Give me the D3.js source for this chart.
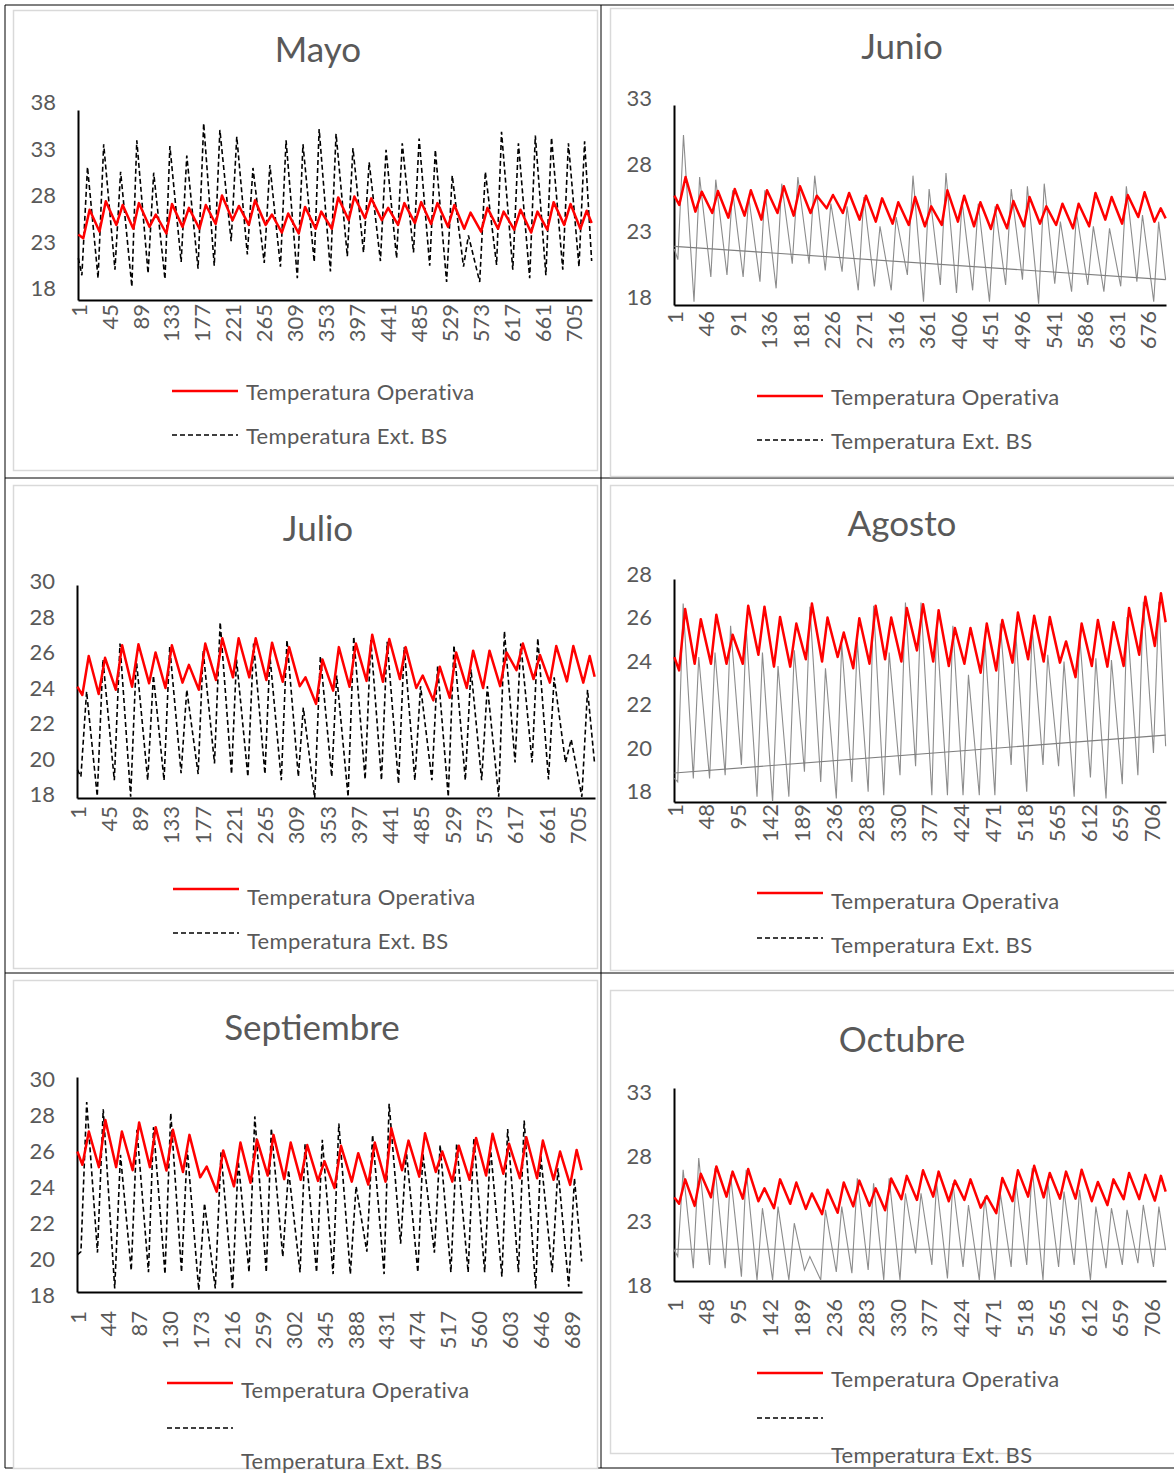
<!DOCTYPE html>
<html><head><meta charset="utf-8">
<script src="https://cdn.jsdelivr.net/npm/d3@7"></script>
<style>
body{margin:0;background:#fff}
svg{display:block}
text{font-family:Lato,"Open Sans",sans-serif;fill:#595959}
</style>
</head><body>
<svg id="c" width="1174" height="1473"></svg>
<script>
// ---------- DATA (daily minima / maxima) ----------
const mayoOpMin=[24.5,25.2,25.9,25.5,25.7,25.0,25.7,25.5,26.0,26.4,25.9,25.9,25.1,25.0,25.5,25.5,26.4,26.6,26.4,25.9,26.1,26.0,25.7,25.5,25.2,25.5,25.4,25.1,25.4,25.9,25.5];
const mayoOpMax=[27.5,28.4,28.0,28.2,27.0,28.1,27.7,28.0,29.0,27.9,28.5,27.0,27.1,27.8,27.3,28.8,28.9,28.7,27.7,28.2,28.3,28.2,28.0,27.2,27.7,27.3,27.5,27.3,28.3,28.1,27.4];
const mayoOpEnds=[24.9,26.1];
const mayoExtMin=[20.6,20.3,21.2,19.4,20.8,20.2,22.0,21.3,21.6,24.2,22.8,21.9,21.5,20.3,22.0,21.0,22.6,23.0,22.1,22.4,23.0,21.6,19.9,21.5,19.9,21.7,21.2,20.3,20.6,21.2,21.5];
const mayoExtMax=[32.0,34.4,31.5,34.8,31.4,34.2,33.2,36.6,35.9,35.2,31.9,32.2,34.8,34.4,36.0,35.5,34.0,32.5,33.8,34.5,35.0,33.8,31.1,24.8,31.5,35.7,34.5,35.3,35.1,34.5,34.7];
const mayoExtEnds=[22.4,22.1];

const junioOpMin=[25.5,25.0,24.9,24.55,24.7,24.4,24.9,24.7,24.9,25.25,24.9,24.4,24.25,24.1,24.0,23.9,24.0,24.25,23.9,23.7,23.75,23.9,24.1,24.0,23.75,23.9,24.4,24.1,24.6,24.25];
const junioOpMax=[27.6,26.5,26.55,26.7,26.6,26.6,26.9,26.9,26.2,26.25,26.4,26.2,26.0,25.7,26.1,25.4,26.6,26.2,25.7,25.5,25.8,26.1,25.4,25.6,25.6,26.4,26.1,26.25,26.45,25.25];
const junioOpEnds=[26.2,24.5];
const junioExtMin=[21.4,18.25,20.1,20.25,20.1,19.75,19.25,21.1,21.1,20.6,20.5,19.1,19.4,19.1,20.25,18.25,19.5,18.9,19.1,18.25,19.5,19.9,18.1,19.6,19.0,19.5,19.0,19.4,19.75,18.25];
const junioExtMax=[30.75,27.6,27.4,26.6,26.1,26.6,27.1,27.6,27.7,25.6,25.4,26.1,23.9,24.6,27.7,26.7,27.9,25.75,25.6,25.4,26.7,26.9,27.1,24.25,24.9,23.9,23.75,26.9,24.75,24.25];
const junioExtEnds=[22.2,19.9];
const junioTrend=[22.4,19.9];

const julioOpMin=[23.8,23.86,24.1,24.27,24.46,24.2,24.5,24.1,24.65,24.8,24.8,24.65,24.55,24.3,23.3,24.05,24.27,24.6,24.55,24.7,24.2,23.5,23.65,24.2,24.2,24.3,25.2,24.7,24.5,24.57,24.5];
const julioOpMax=[26.0,25.9,26.6,26.66,26.2,26.6,25.5,26.7,27.0,27.0,27.0,26.75,26.5,24.8,25.8,26.5,26.7,27.2,26.96,26.5,24.9,25.4,26.2,26.3,26.3,26.2,26.7,26.06,26.56,26.56,26.0];
const julioOpEnds=[24.27,24.83];
const julioExtMin=[19.2,18.1,19.0,18.07,19.0,19.0,19.4,19.35,19.95,19.35,19.2,19.35,19.0,19.2,18.0,19.2,18.07,19.05,19.0,18.8,19.0,19.0,18.07,19.0,19.0,18.07,20.0,20.0,19.05,20.0,18.07];
const julioExtMax=[24.0,25.8,26.7,25.8,24.9,26.5,24.1,26.3,27.9,25.8,26.7,26.0,26.9,23.1,26.0,24.9,27.1,26.9,26.8,26.5,24.3,25.4,26.6,25.25,24.3,27.4,26.7,27.0,24.8,21.3,24.1];
const julioExtEnds=[19.6,19.9];

const agostoOpMin=[23.9,24.2,24.2,24.2,24.2,24.6,24.07,24.07,24.4,24.3,24.5,24.0,24.2,24.4,24.3,24.8,24.3,24.1,24.2,23.8,23.9,24.25,24.4,24.3,24.25,23.6,24.1,24.07,24.1,24.6,25.0];
const agostoOpMax=[26.65,26.2,26.4,25.5,26.8,26.76,26.3,26.0,26.9,26.27,25.6,26.24,26.8,26.27,26.7,26.87,26.6,25.8,25.8,26.0,26.16,26.5,26.35,26.3,25.2,26.0,26.16,26.06,26.7,27.2,27.36];
const agostoOpEnds=[24.5,26.06];
const agostoExtMin=[18.9,19.06,19.06,19.2,19.66,18.24,18.0,18.24,19.36,18.9,18.16,18.9,18.46,18.3,19.2,19.6,18.3,18.3,18.3,18.3,18.3,19.66,18.46,19.66,19.6,18.24,19.1,18.16,18.8,19.2,20.2];
const agostoExtMax=[26.9,24.5,24.7,25.9,25.8,24.7,24.1,24.8,26.76,24.0,25.1,25.2,26.8,24.7,26.95,26.95,25.9,25.9,23.7,25.34,26.0,25.5,25.8,24.6,24.3,25.5,24.44,24.37,26.3,26.98,26.98];
const agostoExtEnds=[19.06,20.5];
const agostoTrend=[19.3,21.0];

const septOpMin=[25.1,24.97,24.97,24.8,24.97,24.78,24.7,24.4,23.6,23.9,24.1,24.5,24.3,24.26,24.2,23.8,24.16,24.0,24.16,24.8,24.44,24.7,24.16,24.26,24.5,24.6,24.35,24.35,24.26,23.98];
const septOpMax=[26.96,27.6,26.96,27.46,27.2,27.05,26.77,25.0,25.9,26.34,26.5,26.77,26.34,26.2,25.3,26.16,25.75,26.34,27.14,26.45,26.86,25.84,26.16,26.6,26.83,26.27,26.64,26.45,25.84,25.93];
const septOpEnds=[25.84,24.8];
const septExtMin=[20.25,20.2,18.2,19.2,19.1,19.0,19.1,18.1,18.2,18.15,19.1,19.1,19.97,19.1,19.1,19.0,19.0,20.25,19.0,20.7,19.1,20.2,19.1,19.1,19.1,18.86,19.1,18.2,19.1,18.3];
const septExtMax=[28.6,28.2,25.65,27.05,27.2,27.98,25.97,22.95,25.8,25.3,27.8,27.14,24.8,26.27,26.5,27.4,23.9,26.77,28.5,25.84,25.75,26.2,26.3,26.6,26.1,27.1,27.57,25.65,24.9,24.35];
const septExtEnds=[20.07,19.7];

const octOpMin=[24.0,23.84,24.5,24.56,24.4,24.2,23.66,24.0,23.6,23.2,23.3,23.8,23.84,23.5,24.36,24.3,24.56,24.2,24.3,23.7,23.27,24.2,24.56,24.5,24.4,24.4,24.2,23.9,24.36,24.36,24.25];
const octOpMax=[25.9,26.33,26.9,26.5,26.7,25.2,25.9,25.65,24.8,25.1,25.65,25.8,25.2,25.96,26.17,26.6,26.5,25.8,25.9,24.6,26.0,26.6,26.95,26.4,26.5,26.65,25.7,25.9,26.4,26.25,26.17];
const octOpEnds=[24.5,24.95];
const octExtMin=[19.9,18.99,19.25,18.99,18.34,18.08,18.08,18.08,18.86,18.08,18.7,18.6,18.86,18.08,18.08,20.15,19.25,18.2,19.1,18.08,18.08,19.1,19.25,18.08,19.1,19.25,18.08,18.99,19.25,19.38,19.1];
const octExtMax=[26.64,27.55,26.77,26.25,26.64,23.66,23.78,22.49,19.9,23.53,23.78,25.99,25.6,25.99,24.82,24.82,25.6,25.6,23.91,24.56,24.82,25.6,26.77,25.73,24.95,25.08,23.78,23.66,23.53,23.91,23.78];
const octExtEnds=[20.4,20.4];
const octTrend=[20.47,20.47];

// hour of the day at which the daily extremes occur
const opHours=[7,16];
const extHours=[5,13];

// number of records per month (x categories)
const mayoN=730, junioN=701, julioN=729, agostoN=726, septN=703, octN=726;

// axis tick labels
const mayoYTicks=[18,23,28,33,38];
const junioYTicks=[18,23,28,33];
const julioYTicks=[18,20,22,24,26,28,30];
const agostoYTicks=[18,20,22,24,26,28];
const septYTicks=[18,20,22,24,26,28,30];
const octYTicks=[18,23,28,33];
const mayoXLabels=[1,45,89,133,177,221,265,309,353,397,441,485,529,573,617,661,705];
const junioXLabels=[1,46,91,136,181,226,271,316,361,406,451,496,541,586,631,676];
const julioXLabels=[1,45,89,133,177,221,265,309,353,397,441,485,529,573,617,661,705];
const agostoXLabels=[1,48,95,142,189,236,283,330,377,424,471,518,565,612,659,706];
const septXLabels=[1,44,87,130,173,216,259,302,345,388,431,474,517,560,603,646,689];
const octXLabels=[1,48,95,142,189,236,283,330,377,424,471,518,565,612,659,706];

const titles=["Mayo","Junio","Julio","Agosto","Septiembre","Octubre"];
const legendLabels=["Temperatura Operativa","Temperatura Ext. BS"];

// ---------- LAYOUT ----------
const panels=[
 {title:titles[0],n:mayoN,opMin:mayoOpMin,opMax:mayoOpMax,opEnds:mayoOpEnds,exMin:mayoExtMin,exMax:mayoExtMax,exEnds:mayoExtEnds,trend:null,dashed:true,
  yTicks:mayoYTicks,xLabels:mayoXLabels,x0:78,x1:592,yTop:110,yBot:300,tx:318,ty:48,lblDy:[-13,-9],xlblY:304,
  frame:[13,10,597,470],leg:{x:172,y1:391,t1:391,y2:435,t2:435}},
 {title:titles[1],n:junioN,opMin:junioOpMin,opMax:junioOpMax,opEnds:junioOpEnds,exMin:junioExtMin,exMax:junioExtMax,exEnds:junioExtEnds,trend:junioTrend,dashed:false,
  yTicks:junioYTicks,xLabels:junioXLabels,x0:674,x1:1166,yTop:105,yBot:305,tx:902,ty:45,lblDy:[-9,-8],xlblY:311,
  frame:[610,8,1180,476],leg:{x:757,y1:396,t1:396,y2:440,t2:440}},
 {title:titles[2],n:julioN,opMin:julioOpMin,opMax:julioOpMax,opEnds:julioOpEnds,exMin:julioExtMin,exMax:julioExtMax,exEnds:julioExtEnds,trend:null,dashed:true,
  yTicks:julioYTicks,xLabels:julioXLabels,x0:77,x1:595,yTop:585,yBot:798,tx:318,ty:527,lblDy:[-5,-5],xlblY:806,
  frame:[13,485,597,968],leg:{x:173,y1:889,t1:896,y2:933,t2:940}},
 {title:titles[3],n:agostoN,opMin:agostoOpMin,opMax:agostoOpMax,opEnds:agostoOpEnds,exMin:agostoExtMin,exMax:agostoExtMax,exEnds:agostoExtEnds,trend:agostoTrend,dashed:false,
  yTicks:agostoYTicks,xLabels:agostoXLabels,x0:674,x1:1166,yTop:579,yBot:802,tx:902,ty:522,lblDy:[-12,-6],xlblY:804,
  frame:[610,485,1180,970],leg:{x:757,y1:893,t1:900,y2:938,t2:944}},
 {title:titles[4],n:septN,opMin:septOpMin,opMax:septOpMax,opEnds:septOpEnds,exMin:septExtMin,exMax:septExtMax,exEnds:septExtEnds,trend:null,dashed:true,
  yTicks:septYTicks,xLabels:septXLabels,x0:77,x1:582,yTop:1077,yBot:1292,tx:312,ty:1026,lblDy:[2,1],xlblY:1311,
  frame:[13,980,597,1468],leg:{x:167,y1:1383,t1:1389,y2:1428,t2:1460}},
 {title:titles[5],n:octN,opMin:octOpMin,opMax:octOpMax,opEnds:octOpEnds,exMin:octExtMin,exMax:octExtMax,exEnds:octExtEnds,trend:octTrend,dashed:false,
  yTicks:octYTicks,xLabels:octXLabels,x0:674,x1:1166,yTop:1088,yBot:1281,tx:902,ty:1038,lblDy:[3,3],xlblY:1299,
  frame:[610,990,1180,1453],leg:{x:757,y1:1373,t1:1378,y2:1418,t2:1454}}
];

const svg=d3.select("#c");

// table grid lines
const grid=svg.append("g").attr("stroke","#000").attr("stroke-width",1);
[[5,5,5,1468],[601,5,601,1468],[5,5,1174,5],[5,478,1174,478],[5,973,1174,973],[5,1468,1174,1468]]
 .forEach(l=>grid.append("line").attr("x1",l[0]).attr("y1",l[1]).attr("x2",l[2]).attr("y2",l[3]));

// daily extremes -> ordered points (index within the month's records)
function series(mins,maxs,ends,hrs,n){
  const per=n/mins.length;
  const pts=[{h:0,v:ends[0]}];
  mins.forEach((m,d)=>{
    pts.push({h:Math.round(d*per+hrs[0]*per/24),v:m});
    pts.push({h:Math.round(d*per+hrs[1]*per/24),v:maxs[d]});
  });
  pts.push({h:n-1,v:ends[1]});
  return pts;
}

panels.forEach(p=>{
  const g=svg.append("g");
  const f=p.frame;
  g.append("rect").attr("x",f[0]+0.5).attr("y",f[1]+0.5).attr("width",f[2]-f[0]).attr("height",f[3]-f[1])
   .attr("fill","#fff").attr("stroke","#d9d9d9").attr("stroke-width",1.5);

  const x=d3.scaleLinear().domain([0.5,p.n+0.5]).range([p.x0,p.x1]);
  const y=d3.scaleLinear().domain([p.yTicks[0],p.yTicks[p.yTicks.length-1]]).range([p.yBot,p.yTop]);
  const lblShift=d3.scaleLinear().domain(y.domain()).range(p.lblDy);

  g.append("text").attr("x",p.tx).attr("y",p.ty).attr("text-anchor","middle").attr("dominant-baseline","central")
   .style("font-size","35px").text(p.title);

  // y axis
  const ya=g.append("g").attr("transform",`translate(${p.x0},0)`)
   .call(d3.axisLeft(y).tickValues(p.yTicks).tickSize(0).tickPadding(22).tickFormat(d3.format("d")));
  ya.select(".domain").attr("stroke","#000").attr("stroke-width",2);
  ya.selectAll("text").style("font-size","22px").attr("fill","#595959").attr("font-family",null).attr("dy",null)
   .attr("dominant-baseline","central").attr("y",d=>lblShift(d));

  // x axis (category labels)
  const xa=g.append("g").attr("transform",`translate(0,${p.yBot})`)
   .call(d3.axisBottom(x).tickValues(p.xLabels).tickSize(0).tickFormat(d3.format("d")));
  xa.select(".domain").attr("stroke","#000").attr("stroke-width",2);
  xa.selectAll("text").style("font-size","22px").attr("fill","#595959").attr("font-family",null)
   .attr("transform","rotate(-90)").attr("x",-(p.xlblY-p.yBot)).attr("y",0).attr("dy","0.35em").attr("text-anchor","end");

  const line=d3.line().x(d=>x(d.h+1)).y(d=>y(d.v));

  // exterior temperature
  const ext=series(p.exMin,p.exMax,p.exEnds,extHours,p.n);
  const ep=g.append("path").datum(ext).attr("d",line).attr("fill","none");
  if(p.dashed) ep.attr("stroke","#000").attr("stroke-width",1.6).attr("stroke-dasharray","5,3");
  else ep.attr("stroke","#8c8c8c").attr("stroke-width",1.1);

  if(p.trend){
    g.append("path").datum([{h:0,v:p.trend[0]},{h:p.n-1,v:p.trend[1]}]).attr("d",line)
     .attr("fill","none").attr("stroke","#7f7f7f").attr("stroke-width",1.1);
  }

  // operative temperature
  const op=series(p.opMin,p.opMax,p.opEnds,opHours,p.n);
  g.append("path").datum(op).attr("d",line).attr("fill","none").attr("stroke","#ff0000").attr("stroke-width",2.5).attr("stroke-linejoin","round");

  // legend
  const L=p.leg;
  g.append("line").attr("x1",L.x).attr("x2",L.x+66).attr("y1",L.y1).attr("y2",L.y1).attr("stroke","#ff0000").attr("stroke-width",2.5);
  g.append("text").attr("x",L.x+74).attr("y",L.t1).attr("dominant-baseline","central").style("font-size","22px").style("letter-spacing","0.3px").text(legendLabels[0]);
  g.append("line").attr("x1",L.x).attr("x2",L.x+66).attr("y1",L.y2).attr("y2",L.y2).attr("stroke","#000").attr("stroke-width",1.5).attr("stroke-dasharray","5,3");
  g.append("text").attr("x",L.x+74).attr("y",L.t2).attr("dominant-baseline","central").style("font-size","22px").style("letter-spacing","0.3px").text(legendLabels[1]);
});
</script>
</body></html>
